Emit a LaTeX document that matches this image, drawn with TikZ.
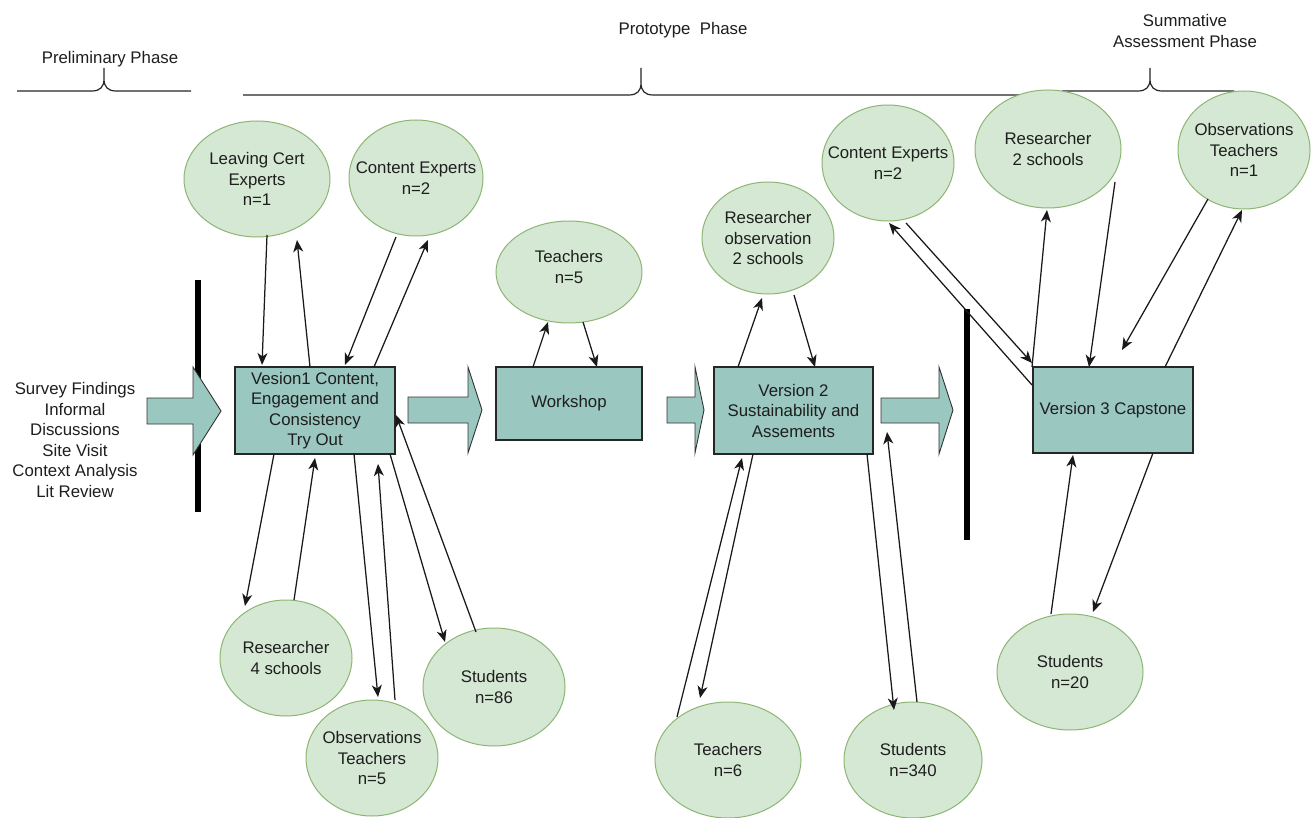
\documentclass[tikz,border=0pt]{standalone}
\usepackage{fontspec}
\setmainfont{Liberation Sans}
\usetikzlibrary{arrows.meta,shapes.geometric}
\definecolor{ellfill}{HTML}{D5E8D4}
\definecolor{elldraw}{HTML}{8DB573}
\definecolor{boxfill}{HTML}{9AC7BF}
\definecolor{txt}{HTML}{1E1E1E}
\newcommand{\lbl}{\fontsize{16.8}{20.5}\selectfont}
\tikzset{
  ell/.style={ellipse, draw=elldraw, fill=ellfill, line width=1pt, inner sep=0pt},
  lab/.style={font=\lbl, text=txt, align=center, inner sep=0pt},
  box/.style={rectangle, draw=black!85, fill=boxfill, line width=1.3pt, inner sep=0pt, align=center, font=\lbl, text=txt},
  conn/.style={line width=1.25pt, draw=black!90, -{Stealth[length=12pt,width=10pt,inset=3.5pt]}},
  blockarrow/.style={draw=black!80, fill=boxfill, line width=0.9pt, line join=miter},
  bar/.style={line width=6pt, draw=black},
  brace/.style={line width=1.2pt, draw=black!85}
}
\begin{document}
\begin{tikzpicture}[x=1pt,y=-1pt]
\fill[white] (0,0) rectangle (1312,818);
\useasboundingbox (0,0) rectangle (1312,818);

% phase labels
\node[lab] (prelim) at (110,59) {Preliminary Phase};
\node[lab] (proto) at (683,30) {Prototype\ \ Phase};
\node[lab] (summ) at (1185,31) {Summative\\Assessment Phase};

% braces
\draw[brace] (17,91) -- (92,91) .. controls (100,91) and (104,87) .. (104,79) -- (104,68) -- (104,79) .. controls (104,87) and (108,91) .. (116,91) -- (191,91);
\draw[brace] (243,95) -- (629,95) .. controls (637,95) and (641,91) .. (641,83) -- (641,68) -- (641,83) .. controls (641,91) and (645,95) .. (653,95) -- (1040,95);
\draw[brace] (1062,91) -- (1138,91) .. controls (1146,91) and (1150,87) .. (1150,79) -- (1150,68) -- (1150,79) .. controls (1150,87) and (1154,91) .. (1162,91) -- (1234,91);

% vertical bars
\draw[bar] (198,280) -- (198,512);
\draw[bar] (967,309) -- (967,540);

% inputs text
\node[lab] (inputs) at (75,440) {Survey Findings\\Informal\\Discussions\\Site Visit\\Context Analysis\\Lit Review};

% block arrows
\draw[blockarrow] (147,398) -- (193,398) -- (193,367) -- (221,411) -- (193,455) -- (193,424) -- (147,424) -- cycle;
\draw[blockarrow] (408,397) -- (468,397) -- (468,367) -- (482,410) -- (468,453) -- (468,423) -- (408,423) -- cycle;
\draw[blockarrow] (667,397) -- (695,397) -- (695,367) -- (704,410) -- (695,453) -- (695,423) -- (667,423) -- cycle;
\draw[blockarrow] (881,398) -- (939,398) -- (939,367) -- (953,410) -- (939,454) -- (939,423) -- (881,423) -- cycle;

% boxes
\node[box, minimum width=160pt, minimum height=87pt] (box1) at (315,410.5) {Vesion1 Content,\\Engagement and\\Consistency\\Try Out};
\node[box, minimum width=146pt, minimum height=73pt] (ws) at (569,403.5) {Workshop};
\node[box, minimum width=159pt, minimum height=87pt] (v2) at (793.5,410.5) {Version 2\\Sustainability and\\Assements};
\node[box, minimum width=160pt, minimum height=86pt] (v3) at (1113,410) {Version 3 Capstone};

% ellipses
\node[ell, minimum width=146pt, minimum height=116pt, label={[lab]center:{Leaving Cert\\Experts\\n=1}}] (lc) at (257,179) {};
\node[ell, minimum width=134pt, minimum height=116pt, label={[lab]center:{Content Experts\\n=2}}] (ce1) at (416,178) {};
\node[ell, minimum width=146pt, minimum height=102pt, label={[lab,yshift=5pt]center:{Teachers\\n=5}}] (t5) at (569,272) {};
\node[ell, minimum width=132pt, minimum height=112pt, label={[lab]center:{Researcher\\observation\\2 schools}}] (ro) at (768,238) {};
\node[ell, minimum width=132pt, minimum height=116pt, label={[lab]center:{Content Experts\\n=2}}] (ce2) at (888,163) {};
\node[ell, minimum width=146pt, minimum height=118pt, label={[lab]center:{Researcher\\2 schools}}] (r2) at (1048,149) {};
\node[ell, minimum width=132pt, minimum height=118pt, label={[lab]center:{Observations\\Teachers\\n=1}}] (ob1) at (1244,150) {};
\node[ell, minimum width=132pt, minimum height=116pt, label={[lab]center:{Researcher\\4 schools}}] (rs4) at (286,658) {};
\node[ell, minimum width=132pt, minimum height=116pt, label={[lab]center:{Observations\\Teachers\\n=5}}] (ob5) at (372,758) {};
\node[ell, minimum width=142pt, minimum height=118pt, label={[lab]center:{Students\\n=86}}] (st86) at (494,687) {};
\node[ell, minimum width=146pt, minimum height=116pt, label={[lab]center:{Teachers\\n=6}}] (t6) at (728,760) {};
\node[ell, minimum width=138pt, minimum height=116pt, label={[lab]center:{Students\\n=340}}] (st340) at (913,760) {};
\node[ell, minimum width=146pt, minimum height=116pt, label={[lab]center:{Students\\n=20}}] (st20) at (1070,672) {};

% connectors around version 1
\draw[conn] ([shift={(10,56)}]lc.center) -- ([shift={(-53,-45.5)}]box1.center);
\draw[conn] ([shift={(-5,-43.5)}]box1.center) -- ([shift={(40,61)}]lc.center);
\draw[conn] ([shift={(-20,59)}]ce1.center) -- ([shift={(30,-45.5)}]box1.center);
\draw[conn] ([shift={(59,-43.5)}]box1.center) -- ([shift={(12,62)}]ce1.center);
\draw[conn] ([shift={(-41,43.5)}]box1.center) -- ([shift={(-41,-52)}]rs4.center);
\draw[conn] ([shift={(8,-58)}]rs4.center) -- ([shift={(0,47.5)}]box1.center);
\draw[conn] ([shift={(39,43.5)}]box1.center) -- ([shift={(6,-61)}]ob5.center);
\draw[conn] ([shift={(23,-58)}]ob5.center) -- ([shift={(63,53.5)}]box1.center);
\draw[conn] ([shift={(75,43.5)}]box1.center) -- ([shift={(-49,-45)}]st86.center);
\draw[conn] ([shift={(-18,-55)}]st86.center) -- ([shift={(81,4.5)}]box1.center);

% workshop
\draw[conn] ([shift={(-36,-36.5)}]ws.center) -- ([shift={(-21,50)}]t5.center);
\draw[conn] ([shift={(14,50)}]t5.center) -- ([shift={(28,-36.5)}]ws.center);

% version 2
\draw[conn] ([shift={(-55.5,-43.5)}]v2.center) -- ([shift={(-6,60)}]ro.center);
\draw[conn] ([shift={(26,57)}]ro.center) -- ([shift={(21.5,-43.5)}]v2.center);
\draw[conn] ([shift={(-51,-43)}]t6.center) -- ([shift={(-51.5,47.5)}]v2.center);
\draw[conn] ([shift={(-40.5,43.5)}]v2.center) -- ([shift={(-28,-62)}]t6.center);
\draw[conn] ([shift={(73.5,43.5)}]v2.center) -- ([shift={(-19,-50)}]st340.center);
\draw[conn] ([shift={(4,-58)}]st340.center) -- ([shift={(93.5,21.5)}]v2.center);

% version 3
\draw[conn] ([shift={(-81,-25)}]v3.center) -- ([shift={(1,60)}]ce2.center);
\draw[conn] ([shift={(18,60)}]ce2.center) -- ([shift={(-81,-47)}]v3.center);
\draw[conn] ([shift={(-81,-43)}]v3.center) -- ([shift={(-1,61)}]r2.center);
\draw[conn] ([shift={(67,33)}]r2.center) -- ([shift={(-24,-43)}]v3.center);
\coordinate (free) at (1122,350);
\draw[conn] ([shift={(-36,49)}]ob1.center) -- (free);
\draw[conn] ([shift={(52,-43)}]v3.center) -- ([shift={(-2,60)}]ob1.center);
\draw[conn] ([shift={(-19,-58)}]st20.center) -- ([shift={(-40,45)}]v3.center);
\draw[conn] ([shift={(40,43)}]v3.center) -- ([shift={(23,-60)}]st20.center);
\end{tikzpicture}
\end{document}
